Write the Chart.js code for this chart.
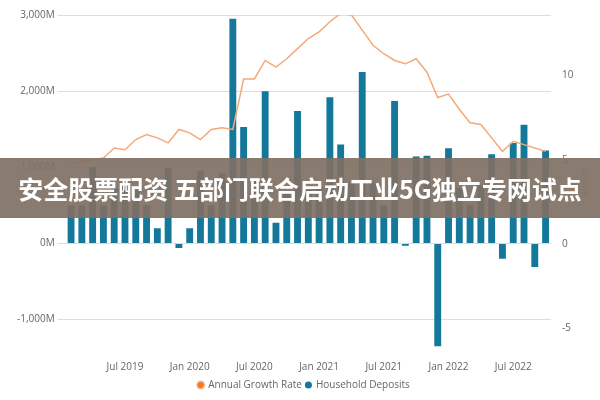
<!DOCTYPE html>
<html><head><meta charset="utf-8">
<script src="https://cdn.jsdelivr.net/npm/chart.js@4"></script>
<style>
  body{margin:0;background:#fff;font-family:"Open Sans",sans-serif}
  #wrap{position:relative;width:600px;height:400px}
  #banner{position:absolute;left:0;top:158px;width:600px;height:60px;background:rgba(128,112,100,.92);
    color:#fff;font:bold 25px "Noto Sans CJK SC",sans-serif;line-height:60px;text-align:center;white-space:nowrap}
</style></head>
<body>
<div id="wrap"><canvas id="c" width="600" height="400"></canvas>
<div id="banner">安全股票配资 五部门联合启动工业5G独立专网试点</div></div>
<script>
// monthly, Feb 2019 .. Oct 2022
const months = ['Feb 2019','Mar 2019','Apr 2019','May 2019','Jun 2019','Jul 2019','Aug 2019','Sep 2019','Oct 2019','Nov 2019','Dec 2019',
  'Jan 2020','Feb 2020','Mar 2020','Apr 2020','May 2020','Jun 2020','Jul 2020','Aug 2020','Sep 2020','Oct 2020','Nov 2020','Dec 2020',
  'Jan 2021','Feb 2021','Mar 2021','Apr 2021','May 2021','Jun 2021','Jul 2021','Aug 2021','Sep 2021','Oct 2021','Nov 2021','Dec 2021',
  'Jan 2022','Feb 2022','Mar 2022','Apr 2022','May 2022','Jun 2022','Jul 2022','Aug 2022','Sep 2022','Oct 2022'];
const deposits = [500,500,1000,500,730,770,700,500,200,990,-60,
  200,950,500,920,2950,1530,850,2000,270,680,1740,700,
  730,1920,1300,790,2250,800,500,1870,-30,1140,1150,-1350,
  1250,730,500,770,1170,-200,1320,1560,-310,1220];
const growth = [4.75,4.9,5.0,5.1,5.7,5.6,6.2,6.5,6.3,6.0,6.8,
  6.6,6.2,6.8,6.9,6.8,9.8,9.8,10.9,10.5,11.0,11.6,12.2,
  12.6,13.2,13.7,13.6,12.7,11.8,11.3,10.9,10.7,11.0,10.2,8.7,
  8.9,8.0,7.2,7.1,6.3,5.5,6.1,5.9,5.7,5.5];
const leftTicks = [-1000,0,1000,2000,3000];
const rightTicks = [-5,0,5,10];
const shownLabels = ['Jul 2019','Jan 2020','Jul 2020','Jan 2021','Jul 2021','Jan 2022','Jul 2022'];

const tickFont = { family:'Open Sans', size:10 };
new Chart(document.getElementById('c'), {
  data: {
    labels: months,
    datasets: [
      { type:'bar', label:'Household Deposits', data:deposits, yAxisID:'y', backgroundColor:'#14789a',
        categoryPercentage:0.75, barPercentage:0.85, order:1 },
      { type:'line', label:'Annual Growth Rate', data:growth, yAxisID:'y1', borderColor:'#f5a878', backgroundColor:'#f07a2a',
        borderWidth:1.5, pointRadius:0, tension:0, order:0 }
    ]
  },
  options: {
    responsive:false, animation:false,
    layout:{ padding:{ top:15, right:6, left:14 } },
    plugins:{
      legend:{ position:'bottom', labels:{ usePointStyle:true, pointStyle:'circle', boxWidth:5, boxHeight:5, padding:4,
        font:{ family:'Open Sans', size:10 }, color:'#666' } }
    },
    scales:{
      x:{ grid:{ display:false }, border:{ display:false },
        ticks:{ autoSkip:false, maxRotation:0, font:tickFont, color:'#666',
          callback:(v,i) => shownLabels.includes(months[i]) ? months[i] : '' } },
      y:{ min:-1400, max:3000, border:{ display:false },
        afterBuildTicks: a => { a.ticks = leftTicks.map(v => ({ value:v })); },
        grid:{ color:'#ddd', borderDash:[2,3] },
        ticks:{ font:tickFont, color:'#666', callback:v => v.toLocaleString('en-US') + 'M' } },
      y1:{ position:'right', min:-6.3, max:13.6, border:{ display:false },
        afterBuildTicks: a => { a.ticks = rightTicks.map(v => ({ value:v })); },
        grid:{ display:false },
        ticks:{ font:tickFont, color:'#666' },
        title:{ display:true, text:'Growth', font:{ family:'Open Sans', size:8 }, color:'#888' } }
    }
  }
});
</script>
</body></html>
